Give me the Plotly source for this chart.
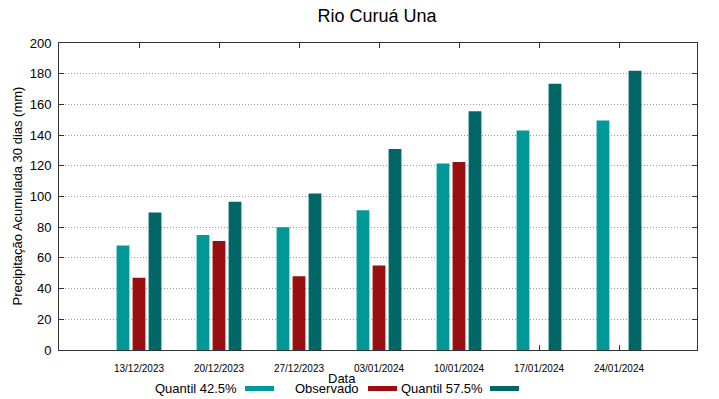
import plotly.graph_objects as go

datas = ["13/12/2023", "20/12/2023", "27/12/2023", "03/01/2024", "10/01/2024", "17/01/2024", "24/01/2024"]
quantil_425 = [68, 75, 80, 91, 121.5, 143, 149.5]
observado = [47, 71, 48, 55, 122.5, None, None]
quantil_575 = [89.5, 96.5, 102, 131, 155.5, 173.5, 182]

series = [
    ("Quantil 42.5%", quantil_425, "#009999"),
    ("Observado", observado, "#990F0F"),
    ("Quantil 57.5%", quantil_575, "#006666"),
]

fig = go.Figure()
for name, vals, col in series:
    fig.add_trace(go.Bar(x=datas, y=vals, name=name, marker=dict(color=col, line=dict(width=0)),
                         showlegend=False))

font = "Liberation Sans, Arial, sans-serif"
# page body has an 8px default margin, so the figure is 8px smaller and offset
fig.update_layout(
    width=711, height=391,
    margin=dict(l=51, r=22, t=35, b=49, autoexpand=False),
    paper_bgcolor="white", plot_bgcolor="white",
    barmode="group", bargap=0.4, bargroupgap=0.2,
    font=dict(family=font, color="#000"),
    title=dict(text="Rio Curuá Una", x=(377 - 8) / 711, xanchor="center", y=1 - 8 / 391, yanchor="middle",
               font=dict(size=18, family=font, color="#000")),
    xaxis=dict(type="category", categoryarray=datas, range=[-1, 6.975], automargin=False,
               showline=True, linecolor="#333", linewidth=1, mirror="ticks",
               ticks="inside", ticklen=5, tickcolor="#333", showgrid=False,
               ticklabelstandoff=9,
               tickfont=dict(size=10, family=font)),
    yaxis=dict(range=[0, 200], dtick=20, showline=True, linecolor="#333", linewidth=1, automargin=False,
               mirror="ticks", ticks="inside", ticklen=5, tickcolor="#333",
               showgrid=True, gridcolor="#999", griddash="1px,2px", gridwidth=1,
               ticklabelstandoff=4,
               zeroline=False, tickfont=dict(size=13, family=font)),
)

# y axis title
fig.add_annotation(text="Precipitação Acumulada 30 dias (mm)", xref="paper", yref="paper",
                   x=(17 - 59) / 638, y=0.5, xanchor="center", yanchor="middle", textangle=-90,
                   showarrow=False, font=dict(size=13, family=font))

# x axis title
fig.add_annotation(text="Data", xref="paper", yref="paper", x=(342 - 59) / 638, y=-28 / 307,
                   xanchor="center", yanchor="middle", showarrow=False, font=dict(size=13, family=font))

# legend (text then swatch)
legend_items = [("Quantil 42.5%", "#009999", 239, 245), ("Observado", "#990F0F", 361, 368),
                ("Quantil 57.5%", "#006666", 485, 490)]
for txt, col, xr, xs in legend_items:
    fig.add_annotation(text=txt, xref="paper", yref="paper", x=(xr - 59) / 638, y=(350 - 388) / 307,
                       xanchor="right", yanchor="middle", showarrow=False, font=dict(size=13, family=font))
    fig.add_shape(type="rect", xref="paper", yref="paper",
                  x0=(xs - 59) / 638, x1=(xs + 29 - 59) / 638,
                  y0=(350 - 386) / 307, y1=(350 - 391) / 307,
                  fillcolor=col, line=dict(width=0))

fig.write_html("out.html")
